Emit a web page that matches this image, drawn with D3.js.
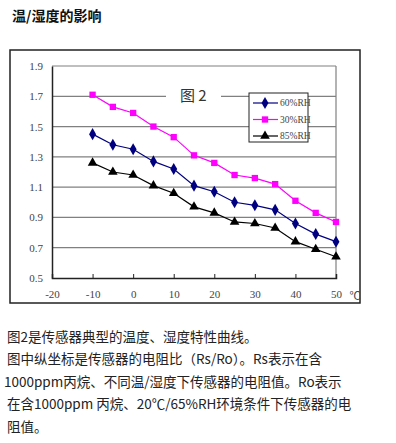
<!DOCTYPE html>
<html>
<head>
<meta charset="utf-8">
<script src="https://cdn.jsdelivr.net/npm/d3@7"></script>
<style>
  body { margin: 0; background: #fff; }
  svg { display: block; }
</style>
</head>
<body>
<div id="chart"></div>
<script>
// temperature (℃) and Rs/Ro per humidity
const temps = [-10, -5, 0, 5, 10, 15, 20, 25, 30, 35, 40, 45, 50];
const rh60 = [1.45, 1.38, 1.35, 1.27, 1.22, 1.11, 1.07, 1.00, 0.98, 0.95, 0.86, 0.79, 0.74];
const rh30 = [1.71, 1.63, 1.59, 1.50, 1.43, 1.31, 1.26, 1.18, 1.16, 1.12, 1.01, 0.93, 0.87];
const rh85 = [1.26, 1.20, 1.18, 1.11, 1.06, 0.97, 0.93, 0.87, 0.86, 0.83, 0.74, 0.69, 0.64];
const xTicks = [-20, -10, 0, 10, 20, 30, 40, 50];
const yTicks = [0.5, 0.7, 0.9, 1.1, 1.3, 1.5, 1.7, 1.9];
const seriesNames = ["60%RH", "30%RH", "85%RH"];
const notes = [
  "图2是传感器典型的温度、湿度特性曲线。",
  "图中纵坐标是传感器的电阻比（Rs/Ro）。Rs表示在含",
  "1000ppm丙烷、不同温/湿度下传感器的电阻值。Ro表示",
  "在含1000ppm 丙烷、20℃/65%RH环境条件下传感器的电",
  "阻值。"
];

const width = 396, height = 443;
const serif = "'Liberation Serif', 'DejaVu Serif', serif";
const cjk = "'Noto Sans CJK SC', sans-serif";

const svg = d3.select("#chart").append("svg")
    .attr("width", width)
    .attr("height", height);

svg.append("text")
  .attr("x", 12).attr("y", 21)
  .attr("font-family", cjk).attr("font-size", 14).attr("font-weight", "bold")
  .attr("fill", "#111")
  .text("温/湿度的影响");

// outer frame
svg.append("rect")
  .attr("x", 10).attr("y", 50).attr("width", 350).attr("height", 253)
  .attr("fill", "none").attr("stroke", "#222").attr("stroke-width", 1.5);

const x = d3.scaleLinear().domain([-20, 50]).range([52, 336]);
const y = d3.scaleLinear().domain([0.5, 1.9]).range([278, 66]);

// gridlines
svg.append("g")
  .selectAll("line")
  .data(yTicks.slice(1))
  .join("line")
    .attr("x1", x(-20)).attr("x2", x(50))
    .attr("y1", d => y(d)).attr("y2", d => y(d))
    .attr("stroke", "#808080").attr("stroke-width", 1.2);
svg.append("line")
  .attr("x1", x(50)).attr("x2", x(50)).attr("y1", y(1.9)).attr("y2", y(0.5))
  .attr("stroke", "#808080").attr("stroke-width", 1.2);

// axes
const yAxis = svg.append("g")
  .attr("transform", `translate(${x(-20)},0)`)
  .call(d3.axisLeft(y).tickValues(yTicks).tickFormat(d3.format(".1f")).tickSize(0).tickPadding(9));
const xAxis = svg.append("g")
  .attr("transform", `translate(0,${y(0.5)})`)
  .call(d3.axisBottom(x).tickValues(xTicks).tickFormat(d => String(d)).tickSize(-4).tickPadding(12));
[xAxis, yAxis].forEach(a => {
  a.select(".domain").attr("stroke", "#222").attr("stroke-width", 1.5);
  a.selectAll(".tick line").attr("stroke", "#222");
  a.selectAll("text").attr("font-family", serif).attr("font-size", 11).attr("fill", "#444");
});
xAxis.selectAll(".tick text").attr("dy", "0.71em");

svg.append("text")
  .attr("x", 355).attr("y", 300)
  .attr("text-anchor", "middle")
  .attr("font-family", cjk).attr("font-size", 11).attr("fill", "#444")
  .text("℃");

// "图 2" label
svg.append("rect")
  .attr("x", 166).attr("y", 86).attr("width", 55).attr("height", 20).attr("fill", "#fff");
svg.append("text")
  .attr("x", 180).attr("y", 101)
  .attr("font-family", cjk).attr("font-size", 15).attr("fill", "#333")
  .text("图 2");

const series = [
  {name: seriesNames[0], values: rh60, color: "#000080", symbol: d3.symbolDiamond, size: 42},
  {name: seriesNames[1], values: rh30, color: "#ff00ff", symbol: d3.symbolSquare, size: 40},
  {name: seriesNames[2], values: rh85, color: "#000000", symbol: d3.symbolTriangle, size: 40}
];

const line = d3.line().x((d, i) => x(temps[i])).y(d => y(d));

series.forEach(s => {
  svg.append("path")
    .datum(s.values)
    .attr("fill", "none")
    .attr("stroke", s.color)
    .attr("stroke-width", 1.2)
    .attr("d", line);
  svg.append("g")
    .selectAll("path")
    .data(s.values)
    .join("path")
      .attr("transform", (d, i) => `translate(${x(temps[i])},${y(d)})`)
      .attr("d", d3.symbol(s.symbol, s.size))
      .attr("fill", s.color);
});

// legend
const legend = svg.append("g").attr("transform", "translate(249,93)");
legend.append("rect")
  .attr("width", 59).attr("height", 49)
  .attr("fill", "#fff").attr("stroke", "#222").attr("stroke-width", 1);
series.forEach((s, i) => {
  const g = legend.append("g").attr("transform", `translate(0,${10 + i * 16.5})`);
  g.append("line").attr("x1", 4).attr("x2", 29).attr("stroke", s.color).attr("stroke-width", 1.2);
  g.append("path").attr("transform", "translate(16,0)").attr("d", d3.symbol(s.symbol, s.size)).attr("fill", s.color);
  g.append("text")
    .attr("x", 31).attr("dy", "0.35em")
    .attr("font-family", serif).attr("font-size", 9.5).attr("fill", "#444")
    .text(s.name);
});

// notes
svg.append("g")
  .selectAll("text")
  .data(notes)
  .join("text")
    .attr("x", (d, i) => i === 2 ? 4 : 7)
    .attr("y", (d, i) => 342 + i * 22.4)
    .attr("font-family", cjk).attr("font-size", 13.5).attr("fill", "#222")
    .text(d => d);
</script>
</body>
</html>
